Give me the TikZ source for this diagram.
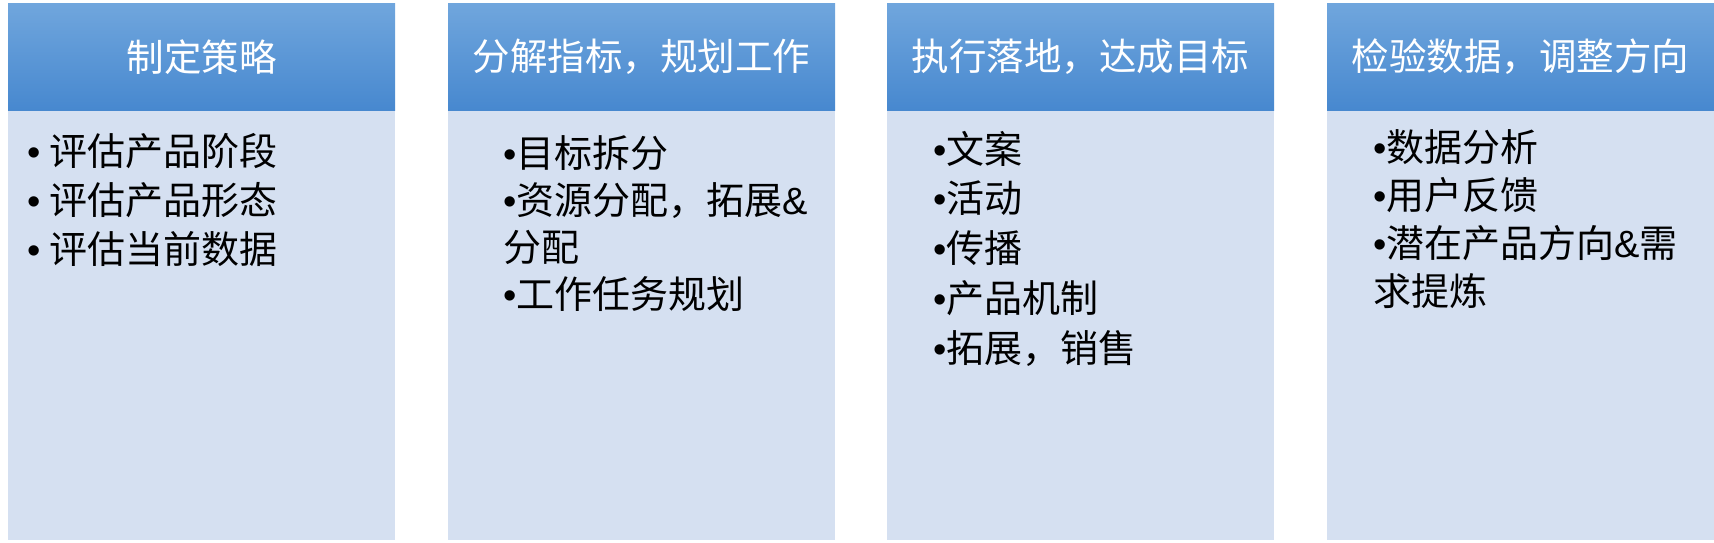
\documentclass[tikz,border=0pt]{standalone}
\usepackage{fontspec}
\setmainfont{Noto Sans CJK SC}
\newfontfamily\latinfont{Liberation Sans}
\newcommand{\itm}{{\latinfont •}}
\newcommand{\amp}{{\latinfont\&}}
\definecolor{headtop}{HTML}{70A6DD}
\definecolor{headbot}{HTML}{4788CF}
\definecolor{bodyfill}{HTML}{D5E0F1}
\tikzset{
  headbox/.style={rectangle, top color=headtop, bottom color=headbot, draw=none,
    minimum width=387pt, minimum height=107pt, inner sep=0pt, anchor=north west,
    text=white, font=\fontsize{37.5}{44}\selectfont},
  bodybox/.style={rectangle, fill=bodyfill, draw=none,
    minimum width=387pt, minimum height=430pt, inner sep=0pt, anchor=north west},
  itemlist/.style={anchor=base west, inner sep=0pt, align=left,
    font=\fontsize{38}{#1}\selectfont},
  itemlist/.default=48
}
\begin{document}
\begin{tikzpicture}[x=1pt,y=-1pt]
	\useasboundingbox (0,0) rectangle (1714,542);
	\foreach \x/\n/\t in {8/1/制定策略,448/2/分解指标，规划工作,887/3/执行落地，达成目标,1327/4/检验数据，调整方向}
	  {
	      \node[bodybox] (body\n) at (\x,110) {};
	      \node[headbox] (head\n) at (\x,3) {\t};
	  }
	% lists, placed at the baseline of their last line
	\node[itemlist=49] (list1) at (27,263) {\itm\ 评估产品阶段\\\itm\ 评估产品形态\\\itm\ 评估当前数据};
	\node[itemlist=47] (list2) at (503,308) {\itm 目标拆分\\\itm 资源分配，拓展\amp\\分配\\\itm 工作任务规划};
	\node[itemlist=49.75] (list3) at (933,362) {\itm 文案\\\itm 活动\\\itm 传播\\\itm 产品机制\\\itm 拓展，销售};
	\node[itemlist=47.7] (list4) at (1373,305) {\itm 数据分析\\\itm 用户反馈\\\itm 潜在产品方向\amp 需\\求提炼};
\end{tikzpicture}
\end{document}
